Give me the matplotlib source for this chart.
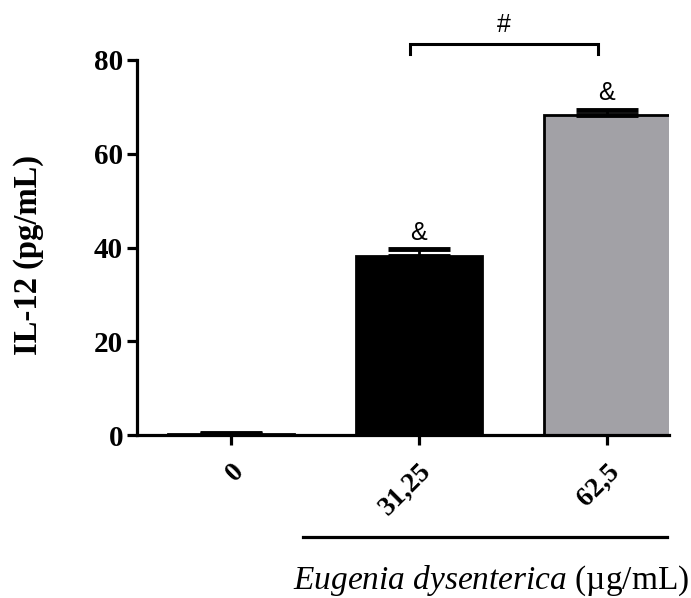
import matplotlib
matplotlib.use("Agg")
import matplotlib.pyplot as plt
from matplotlib.lines import Line2D

plt.rcParams["mathtext.fontset"] = "custom"
plt.rcParams["mathtext.rm"] = "Liberation Serif"
plt.rcParams["mathtext.it"] = "Liberation Serif:italic"

categories = ["0", "31,25", "62,5"]
values = [0.3, 38.2, 68.2]
errors = [0.2, 1.4, 1.2]
bar_colors = ["#a0a0a0", "#000000", "#a2a1a6"]
y_ticks = [0, 20, 40, 60, 80]
marks = ["", "&", "&"]

serif = ["Liberation Serif", "DejaVu Serif"]
sans = ["Liberation Sans", "DejaVu Sans"]

fig = plt.figure(figsize=(6.91, 5.98), dpi=100)
ax = fig.add_axes([137/691, 1-435/598, (669-137)/691, 375/598])

x = list(range(len(categories)))
ax.bar(x, values, width=0.67, color=bar_colors, edgecolor="black",
       linewidth=2.0, zorder=2)
ax.errorbar(x, values, yerr=[[0]*3, errors], fmt="none", ecolor="black",
            elinewidth=2, capsize=22, capthick=3.5, zorder=3)

for xi, v, e, m in zip(x, values, errors, marks):
    if m:
        ax.text(xi, v + e + 1.0, m, ha="center", va="bottom",
                fontsize=18, family=sans)

# bracket
bx0, bx1 = 0.95, 1.95
by = 83.5
ax.plot([bx0, bx0, bx1, bx1], [by - 2.3, by, by, by - 2.3], color="black",
        lw=2.2, clip_on=False, solid_joinstyle="miter")
ax.text((bx0 + bx1) / 2, by + 1.3, "#", ha="center", va="bottom",
        fontsize=18, family=sans)

ax.set_xlim(-0.5, 2.33)
ax.set_ylim(0, 80)
ax.set_yticks(y_ticks)
ax.set_xticks(x)
ax.set_xticklabels(categories, rotation=45, ha="right", va="top",
                   rotation_mode="anchor", fontsize=20, fontweight="bold",
                   family=serif)
for lab in ax.get_xticklabels():
    lab.set_y(-0.03)
ax.set_yticklabels([str(t) for t in y_ticks], fontsize=21,
                   fontweight="bold", family=serif)
for s in ["top", "right"]:
    ax.spines[s].set_visible(False)
for s in ["left", "bottom"]:
    ax.spines[s].set_linewidth(2.3)
ax.tick_params(axis="y", width=2.3, length=7, pad=3)
ax.tick_params(axis="x", width=2.3, length=7, pad=2)

ax.set_ylabel("IL-12 (pg/mL)", fontsize=23.5, fontweight="bold",
              family=serif)
ax.yaxis.set_label_coords(-(137 - 44) / 532, (435 - 255) / 375)

fig.add_artist(Line2D([303/691, 667/691], [1-537/598, 1-537/598],
                      color="black", lw=2.3))
fig.text(689/691, 1-581/598,
         r"$\it{Eugenia\ dysenterica}$ (µg/mL)", ha="right", va="center",
         fontsize=24, family=serif)

fig.savefig("out.png", dpi=100)
